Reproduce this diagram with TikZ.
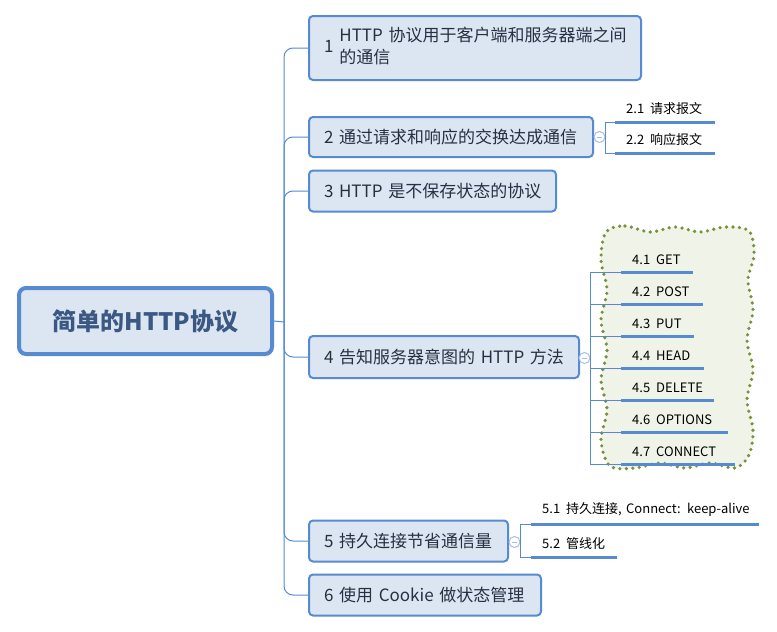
\documentclass[tikz,border=0pt]{standalone}
\usepackage{fontspec}
\setmainfont{Noto Sans CJK SC}
\definecolor{bline}{RGB}{86,139,210}
\definecolor{bfill}{RGB}{220,230,242}
\definecolor{btext}{RGB}{38,48,66}
\definecolor{rtext}{RGB}{58,88,130}
\definecolor{cline}{RGB}{168,190,230}
\definecolor{cloudfill}{RGB}{240,244,232}
\definecolor{clouddot}{RGB}{118,146,58}
\tikzset{
  box/.style={draw=bline, line width=2pt, fill=bfill, rounded corners=4pt, anchor=west,
    inner xsep=15pt, inner ysep=0pt, align=left, text=btext, font=\fontsize{17}{22}\selectfont},
  rootbox/.style={draw=bline, line width=4pt, fill=bfill, rounded corners=7pt,
    minimum width=253pt, minimum height=66pt, text=rtext, font=\fontsize{24}{28}\selectfont\bfseries},
  conn/.style={draw=bline, line width=1pt},
  uline/.style={draw=bline, line width=3pt},
  child/.style={anchor=south west, inner xsep=11pt, inner ysep=7.5pt, align=left, text=black,
    font=\fontsize{13}{15}\selectfont},
  colbtn/.style={circle, draw=cline, fill=white, line width=1pt, minimum size=11pt, inner sep=0pt},
  cloud/.style={fill=cloudfill, draw=clouddot, line width=3.6pt, line cap=round, dash pattern=on 0pt off 6.5pt},
}
\begin{document}
\begin{tikzpicture}[x=1pt,y=-1pt]
\useasboundingbox (0,0) rectangle (777,632);
% cloud
\draw[cloud] plot[smooth cycle, tension=0.55] coordinates {
  (606,232) (625,226) (650,232) (675,227) (700,232) (725,227) (749,231)
  (754,255) (748,280) (753,310) (747,340) (753,370) (747,400) (753,430) (749,455)
  (735,468) (710,463) (685,468) (660,463) (635,468) (610,466)
  (601,440) (607,410) (601,380) (607,350) (601,320) (607,290) (601,260)};
% root
\node[rootbox] (root) at (145.5,321) {简单的HTTP协议};
\coordinate (trunk) at (284,322);
% main boxes
\node[box, text width=302pt, minimum height=64pt] (b1) at (308,48)
  {\begin{tabular}{@{}l@{\hspace{6pt}}l@{}}1 & \begin{tabular}[c]{@{}l@{}}HTTP 协议用于客户端和服务器端之间\\[0pt]的通信\end{tabular}\end{tabular}};
\node[box, text width=254pt, minimum height=40pt] (b2) at (308,137) {\mbox{2 通过请求和响应的交换达成通信}};
\node[box, text width=217pt, minimum height=41pt] (b3) at (308,191) {\mbox{3 HTTP 是不保存状态的协议}};
\node[box, text width=240pt, minimum height=42pt] (b4) at (308,357) {\mbox{4 告知服务器意图的 HTTP 方法}};
\node[box, text width=169pt, minimum height=41pt] (b5) at (308,541) {\mbox{5 持久连接节省通信量}};
\node[box, text width=202pt, minimum height=41pt] (b6) at (308,595) {\mbox{6 使用 Cookie 做状态管理}};
% trunk connectors
\draw[conn] (root.east) -- (trunk);
\foreach \b in {b1,b2,b3,b4,b5,b6}{
  \draw[conn, rounded corners=9pt] (trunk) |- (\b.west);
}
% collapse buttons
\node[colbtn] (k2) at (599.5,137) {};
\node[colbtn] (k4) at (584.5,358) {};
\node[colbtn] (k5) at (514.5,542) {};
\foreach \k in {k2,k4,k5}{
  \draw[draw=cline, line width=0.8pt] ([xshift=-2.5pt]\k.center) -- ([xshift=2.5pt]\k.center);
}
% children of 2
\node[child, text width=78pt] (c21) at (615,122) {\mbox{2.1\hspace{6pt}请求报文}};
\node[child, text width=78pt] (c22) at (615,153) {\mbox{2.2\hspace{6pt}响应报文}};
% children of 4
\node[child, text width=50pt] (c41) at (621,272) {\mbox{4.1\hspace{6pt}GET}};
\node[child, text width=60pt] (c42) at (621,304) {\mbox{4.2\hspace{6pt}POST}};
\node[child, text width=51pt] (c43) at (621,336) {\mbox{4.3\hspace{6pt}PUT}};
\node[child, text width=61pt] (c44) at (621,368) {\mbox{4.4\hspace{6pt}HEAD}};
\node[child, text width=71pt] (c45) at (621,400) {\mbox{4.5\hspace{6pt}DELETE}};
\node[child, text width=85pt] (c46) at (621,432) {\mbox{4.6\hspace{6pt}OPTIONS}};
\node[child, text width=92pt] (c47) at (621,464) {\mbox{4.7\hspace{6pt}CONNECT}};
% children of 5
\node[child, text width=206pt] (c51) at (531,524) {\mbox{5.1\hspace{6pt}持久连接, Connect: keep-alive}};
\node[child, text width=64pt] (c52) at (531,557) {\mbox{5.2\hspace{6pt}管线化}};
% brackets and underlines
\foreach \c in {c21,c22}{
  \draw[conn] (k2.east) |- (\c.south west);
  \draw[uline] (\c.south west) -- (\c.south east);
}
\foreach \c in {c41,c42,c43,c44,c45,c46,c47}{
  \draw[conn] (k4.east) |- (\c.south west);
  \draw[uline] (\c.south west) -- (\c.south east);
}
\foreach \c in {c51,c52}{
  \draw[conn] (k5.east) |- (\c.south west);
  \draw[uline] (\c.south west) -- (\c.south east);
}
\end{tikzpicture}
\end{document}
